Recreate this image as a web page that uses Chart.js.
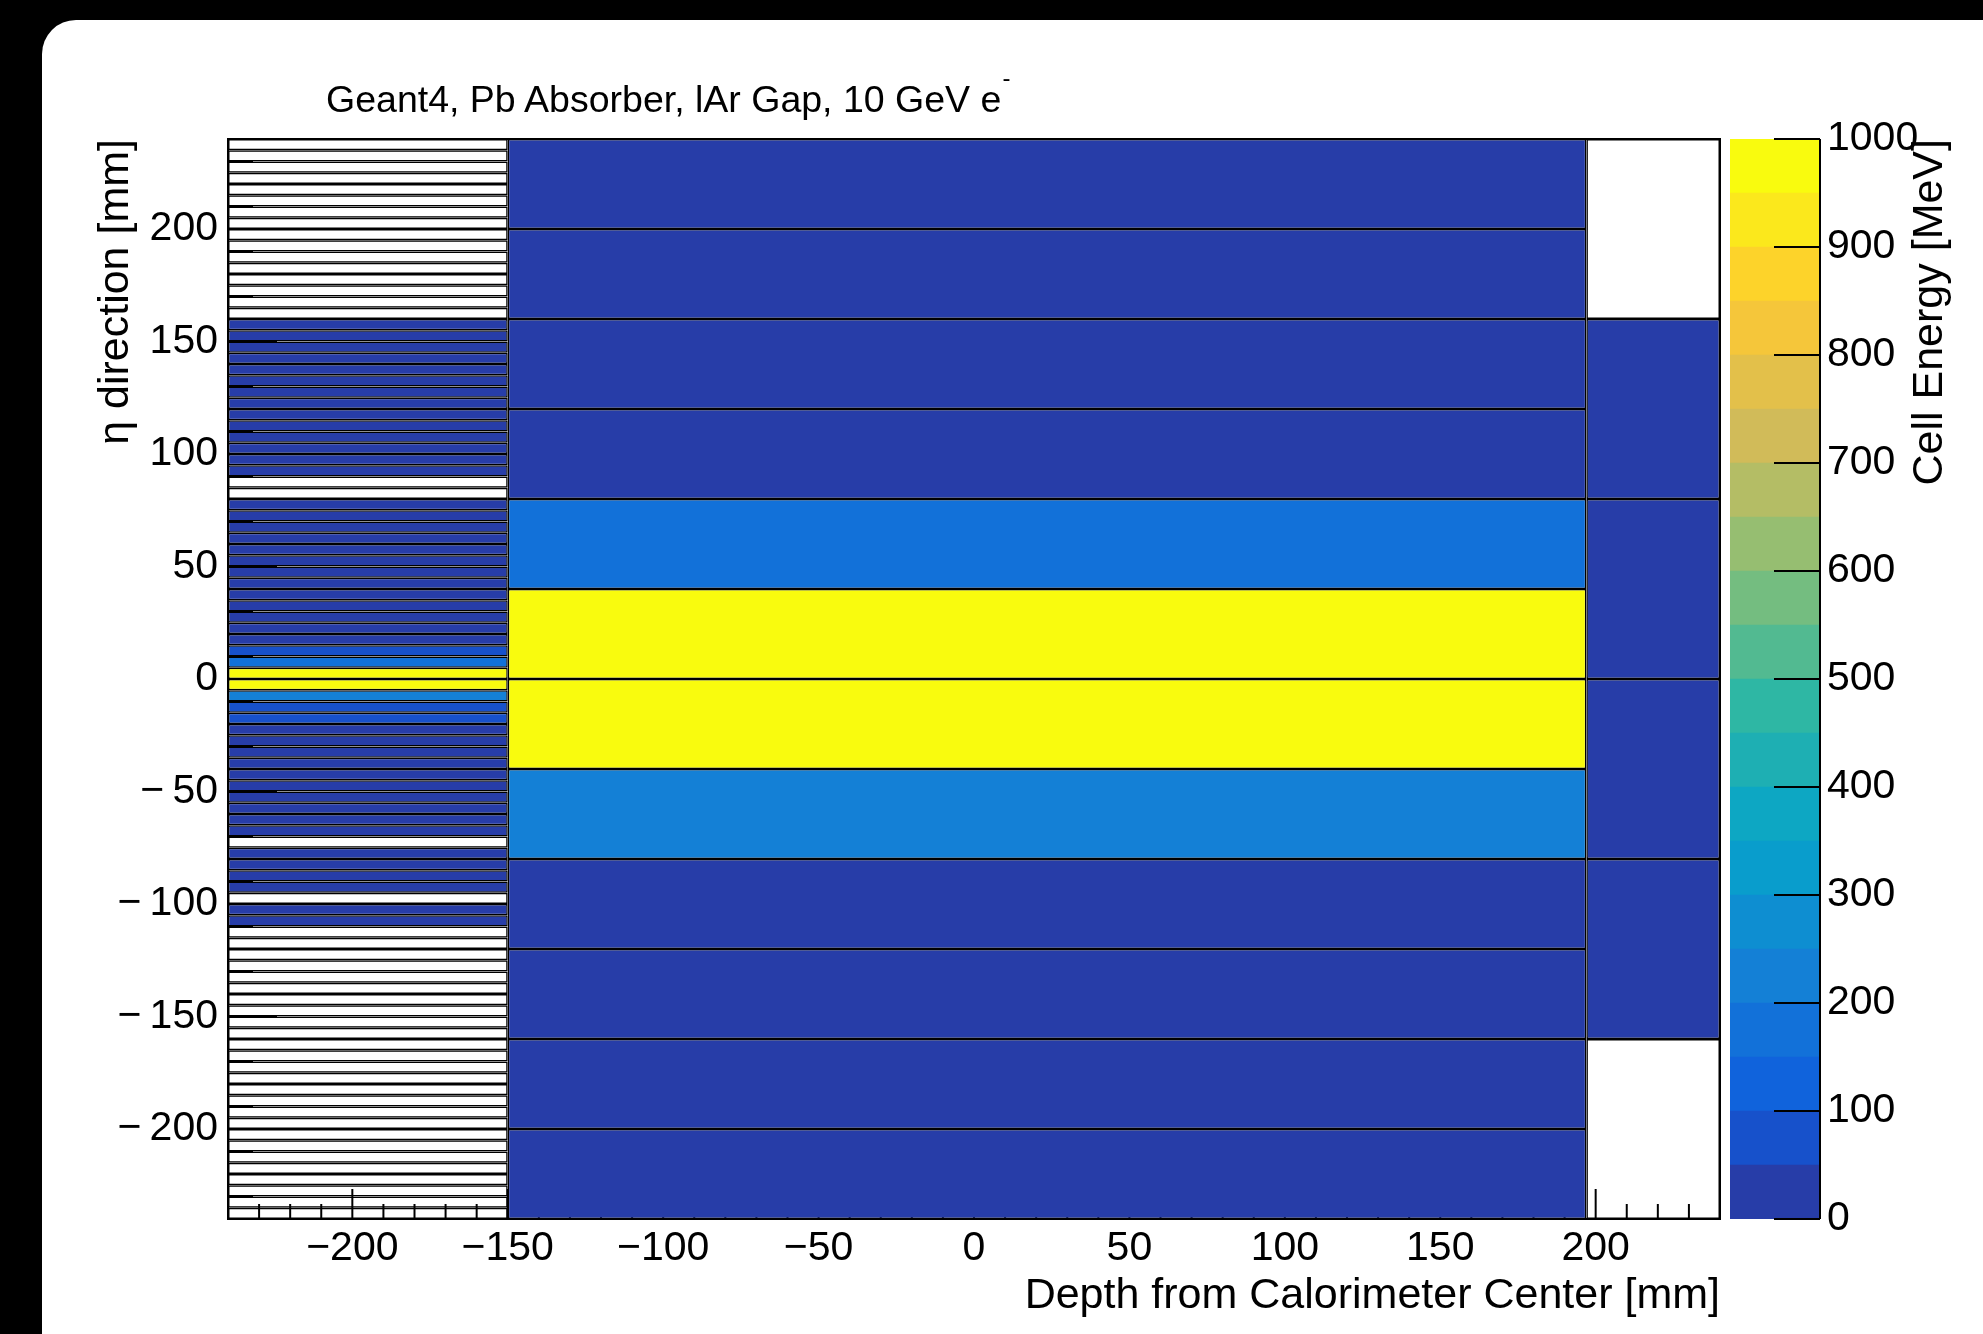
<!DOCTYPE html>
<html>
<head>
<meta charset="utf-8">
<script src="https://cdn.jsdelivr.net/npm/chart.js@4.4.1/dist/chart.umd.min.js"></script>
<style>
  html, body { margin: 0; padding: 0; width: 1983px; height: 1334px; overflow: hidden; background: #000; }
  #panel { position: absolute; left: 42px; top: 20px; width: 2100px; height: 1500px; background: #fff; border-top-left-radius: 34px; }
  canvas { position: absolute; left: 0; top: 0; pointer-events: none; }
  .txt { position: absolute; font-family: "Liberation Sans", Arial, sans-serif; color: #000; white-space: nowrap; }
  #title { left: 326px; top: 80px; font-size: 37.5px; line-height: 38px; }
  #title .sup { font-size: 24px; position: relative; top: -26px; margin-left: 1px; }
  #ztitle { left: 1906px; top: 639px; width: 500px; height: 43px; font-size: 43px; line-height: 43px; text-align: right; transform-origin: 0 0; transform: rotate(-90deg); }
</style>
</head>
<body>
<div id="panel"></div>
<canvas id="main" width="1983" height="1334"></canvas>
<canvas id="zbar" width="1983" height="1334"></canvas>
<div id="title" class="txt">Geant4, Pb Absorber, lAr Gap, 10 GeV e<span class="sup">-</span></div>
<div id="ztitle" class="txt">Cell Energy [MeV]</div>
<script>
// ---------------- data ----------------
const etaRange = [-240, 240];          // eta extent [mm]
const depthRange = [-240, 240];        // depth axis extent [mm]
const stripLayer = [-240, -150];       // depth span of the strip layer [mm]
const middleLayer = [-150, 197];       // depth span of the middle layer [mm]
const backLayer = [197, 240];          // depth span of the back layer [mm]
const stripPitch = 5;                  // eta height of a strip cell [mm]
const middlePitch = 40;
const backPitch = 80;

// cell energies [MeV], listed from eta = -240 upward (0 = empty cell)
const stripEnergy = [
  0, 0, 0, 0, 0, 0, 0, 0, 0, 0, 0, 0, 0, 0, 0, 0, 0, 0, 0, 0, 0, 0, 0, 0, 0, 0,
  3, 4, 0, 4, 5, 6, 6, 0,
  8, 9, 10, 12, 13, 15, 18, 22, 27, 35,
  62, 88, 215, 985, 990, 180, 80,
  40, 30, 24, 20, 16, 14, 12, 10, 9, 8, 7, 6, 5,
  0, 0,
  5, 5, 4, 4, 4, 3, 3, 3, 3, 2, 2, 2, 2, 1,
  0, 0, 0, 0, 0, 0, 0, 0, 0, 0, 0, 0, 0, 0, 0, 0
];
const middleEnergy = [2, 4, 9, 28, 225, 985, 990, 170, 32, 10, 4, 2];
const backEnergy = [0, 3, 12, 14, 4, 0];

// colour scale
const zRange = [0, 1000];
const zLevels = [0, 50, 100, 150, 200, 250, 300, 350, 400, 450, 500, 550, 600, 650, 700, 750, 800, 850, 900, 950, 1000];

// tick labels
const xTickValues = [-200, -150, -100, -50, 0, 50, 100, 150, 200];
const yTickValues = [-200, -150, -100, -50, 0, 50, 100, 150, 200];
const zTickValues = [0, 100, 200, 300, 400, 500, 600, 700, 800, 900, 1000];
const minorStep = 10;

// ---------------- palette (ROOT kBird) ----------------
const birdStops = [0, 0.125, 0.25, 0.375, 0.5, 0.625, 0.75, 0.875, 1];
const birdR = [0.2082, 0.0592, 0.0780, 0.0232, 0.1802, 0.5301, 0.8186, 0.9956, 0.9764];
const birdG = [0.1664, 0.3599, 0.5041, 0.6419, 0.7178, 0.7492, 0.7328, 0.7862, 0.9832];
const birdB = [0.5293, 0.8684, 0.8385, 0.7914, 0.6425, 0.4662, 0.3499, 0.1968, 0.0539];
function birdAt(t) {
  let s = 0;
  while (s < birdStops.length - 2 && t > birdStops[s + 1]) s++;
  const f = (t - birdStops[s]) / (birdStops[s + 1] - birdStops[s]);
  const c = a => Math.round(255 * (a[s] + f * (a[s + 1] - a[s])));
  return `rgb(${c(birdR)},${c(birdG)},${c(birdB)})`;
}
const nBands = zLevels.length - 1;
const nPalette = 255;
const bandColors = zLevels.slice(0, -1).map((_, i) =>
  birdAt(Math.floor((i + 0.99) * nPalette / nBands) / (nPalette - 1)));
function zColor(e) {
  if (!(e > 0)) return 'rgba(0,0,0,0)';
  let i = 0;
  while (i < nBands - 1 && e >= zLevels[i + 1]) i++;
  return bandColors[i];
}

// ---------------- cells ----------------
function cells(layer, pitch, energies) {
  return energies.map((e, i) => ({ x: layer, y: etaRange[0] + (i + 0.5) * pitch, e }));
}

const FONT = '"Liberation Sans", Arial, sans-serif';
Chart.defaults.font.family = FONT;
Chart.defaults.color = '#000';

const minus = (v, gap) => v < 0 ? '\u2212' + gap + Math.abs(v) : String(v);

const cellStyle = {
  type: 'bar',
  grouped: false,
  backgroundColor: c => zColor(c.raw && c.raw.e),
  borderColor: '#000',
  borderWidth: 1.5,
  borderSkipped: false,
  barPercentage: 1,
  categoryPercentage: 1,
  inflateAmount: 0,
};

const rootAxes = {
  id: 'rootAxes',
  beforeDatasetsDraw(chart) {
    const { ctx, chartArea: a, scales: { x, y } } = chart;
    ctx.save();
    ctx.strokeStyle = '#000';
    ctx.lineWidth = 2;
    for (let v = x.min + minorStep; v < x.max; v += minorStep) {
      const px = x.getPixelForValue(v);
      const len = v % 50 === 0 ? 30 : 15;
      ctx.beginPath(); ctx.moveTo(px, a.bottom); ctx.lineTo(px, a.bottom - len); ctx.stroke();
    }
    for (let v = y.min + minorStep; v < y.max; v += minorStep) {
      const py = y.getPixelForValue(v);
      const len = v % 50 === 0 ? 49 : 25;
      ctx.beginPath(); ctx.moveTo(a.left, py); ctx.lineTo(a.left + len, py); ctx.stroke();
    }
    ctx.restore();
  },
  afterDatasetsDraw(chart) {
    const { ctx, chartArea: a } = chart;
    ctx.save();
    ctx.strokeStyle = '#000';
    ctx.lineWidth = 2;
    ctx.strokeRect(a.left, a.top, a.right - a.left, a.bottom - a.top);
    ctx.restore();
  }
};

const hiddenEta = () => ({
  type: 'linear', axis: 'y', display: false, offset: false,
  min: etaRange[0], max: etaRange[1],
  afterBuildTicks: s => { s.ticks = etaRange.map(v => ({ value: v })); },
  ticks: { display: false },
  grid: { offset: false }
});

new Chart(document.getElementById('main'), {
  data: {
    datasets: [
      Object.assign({ label: 'Strip layer', yAxisID: 'yS', data: cells(stripLayer, stripPitch, stripEnergy) }, cellStyle),
      Object.assign({ label: 'Middle layer', yAxisID: 'yM', data: cells(middleLayer, middlePitch, middleEnergy) }, cellStyle),
      Object.assign({ label: 'Back layer', yAxisID: 'yB', data: cells(backLayer, backPitch, backEnergy) }, cellStyle),
    ]
  },
  options: {
    indexAxis: 'y',
    responsive: false,
    animation: false,
    layout: { padding: { left: 0, top: 139, right: 263, bottom: 0 } },
    plugins: { legend: { display: false }, tooltip: { enabled: false } },
    scales: {
      x: {
        type: 'linear', position: 'bottom', offset: false, min: depthRange[0], max: depthRange[1],
        afterBuildTicks: s => { s.ticks = xTickValues.map(v => ({ value: v })); },
        ticks: { font: { size: 41 }, color: '#000', padding: 5, maxRotation: 0, autoSkip: false, callback: v => minus(v, '') },
        grid: { display: false, drawTicks: false, offset: false },
        border: { display: false },
        title: { display: true, text: 'Depth from Calorimeter Center [mm]', align: 'end', color: '#000', font: { size: 43 }, padding: { top: 0, bottom: 12 } },
        afterFit: s => { s.height = 115; }
      },
      y: {
        type: 'linear', position: 'left', offset: false, min: etaRange[0], max: etaRange[1],
        afterBuildTicks: s => { s.ticks = yTickValues.map(v => ({ value: v })); },
        ticks: { font: { size: 41 }, color: '#000', padding: 10, autoSkip: false, callback: v => minus(v, '\u2009') },
        grid: { display: false, drawTicks: false, offset: false },
        border: { display: false },
        title: { display: true, text: '\u03b7 direction [mm]', align: 'end', color: '#000', font: { size: 43 }, padding: { top: 90, bottom: 0 } },
        afterFit: s => { s.width = 228; }
      },
      yS: hiddenEta(),
      yM: hiddenEta(),
      yB: hiddenEta(),
    }
  },
  plugins: [rootAxes]
});

// ---------------- colour bar ----------------
const paletteAxis = {
  id: 'paletteAxis',
  afterDatasetsDraw(chart) {
    const { ctx, chartArea: a, scales: { z } } = chart;
    ctx.save();
    ctx.strokeStyle = '#000';
    ctx.lineWidth = 2;
    zTickValues.forEach(v => {
      const py = z.getPixelForValue(v);
      ctx.beginPath(); ctx.moveTo(a.right, py); ctx.lineTo(a.right - 46, py); ctx.stroke();
    });
    ctx.beginPath(); ctx.moveTo(a.right, a.top); ctx.lineTo(a.right, a.bottom); ctx.stroke();
    ctx.restore();
  }
};

new Chart(document.getElementById('zbar'), {
  type: 'bar',
  data: {
    labels: ['Cell Energy'],
    datasets: zLevels.slice(0, -1).map((lo, i) => ({
      label: lo + '-' + zLevels[i + 1],
      data: [[lo, zLevels[i + 1]]],
      backgroundColor: bandColors[i],
      borderWidth: 0,
      grouped: false,
      barPercentage: 1,
      categoryPercentage: 1,
      yAxisID: 'z',
    }))
  },
  options: {
    responsive: false,
    animation: false,
    layout: { padding: { left: 1730, top: 139, right: 63, bottom: 115 } },
    plugins: { legend: { display: false }, tooltip: { enabled: false } },
    scales: {
      x: { type: 'category', display: false },
      z: {
        type: 'linear', axis: 'y', position: 'right', offset: false, min: zRange[0], max: zRange[1],
        afterBuildTicks: s => { s.ticks = zTickValues.map(v => ({ value: v })); },
        ticks: { font: { size: 41 }, color: '#000', padding: 7, autoSkip: false, callback: v => String(v) },
        grid: { display: false, drawTicks: false },
        border: { display: false },
        afterFit: s => { s.width = 100; }
      }
    }
  },
  plugins: [paletteAxis]
});
</script>
</body>
</html>
